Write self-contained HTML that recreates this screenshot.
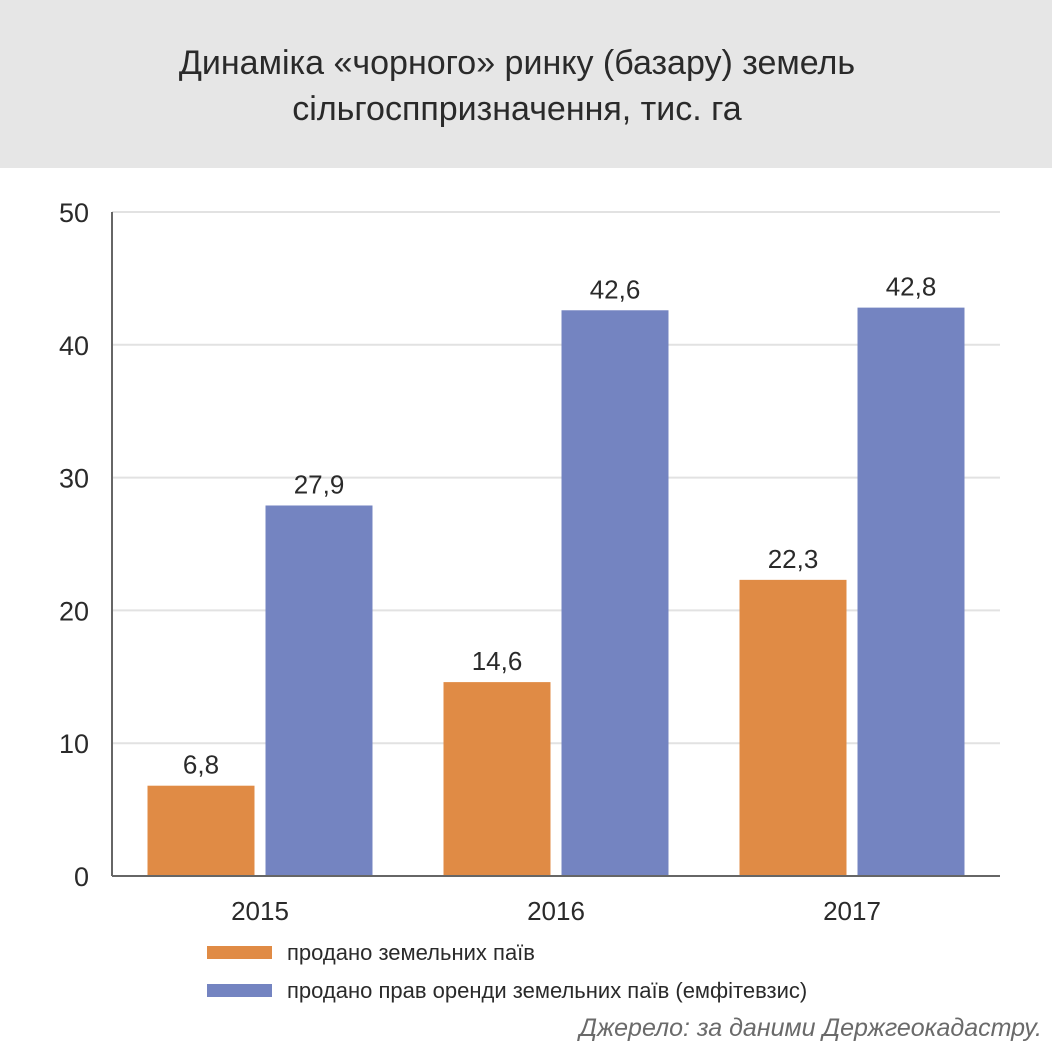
<!DOCTYPE html>
<html><head><meta charset="utf-8"><style>
html,body{margin:0;padding:0;background:#fff;}
body{width:1052px;height:1051px;position:relative;overflow:hidden;font-family:"Liberation Sans",sans-serif;}
#hdr{position:absolute;left:0;top:0;width:1052px;height:168px;background:#e6e6e6;}
#title{position:absolute;left:0;top:40px;width:1034px;text-align:center;font-size:34px;line-height:46px;color:#2a2a2a;}
svg{position:absolute;left:0;top:0;}
#src{position:absolute;right:10px;top:1014px;font-style:italic;font-size:25px;color:#6a6a6a;}
</style></head><body>
<div id="hdr"></div>
<div id="title">Динаміка «чорного» ринку (базару) земель<br>сільгосппризначення, тис. га</div>
<svg id="chart" width="1052" height="1051"></svg>
<div id="src">Джерело: за даними Держгеокадастру.</div>
<script>
const categories=["2015","2016","2017"];
const soldShares=[6.8,14.6,22.3];
const soldLease=[27.9,42.6,42.8];
const valueLabelsA=["6,8","14,6","22,3"];
const valueLabelsB=["27,9","42,6","42,8"];
const yTicks=[0,10,20,30,40,50];
const legendLabels=["продано земельних паїв","продано прав оренди земельних паїв (емфітевзис)"];
const colors=["#e08b45","#7484c1"];
const NS="http://www.w3.org/2000/svg";
const svg=document.getElementById('chart');
const x0=112,x1=1000,y0=876,yTop=212;
const y=v=>y0-(v/50)*(y0-yTop);
const band=(x1-x0)/categories.length;
const bw=107,gap=11;
function mk(t,a,p){const e=document.createElementNS(NS,t);for(const k in a)e.setAttribute(k,a[k]);(p||svg).appendChild(e);return e;}
yTicks.forEach(t=>{
  if(t>0){const g=mk('line',{x1:x0,x2:x1,y1:y(t),y2:y(t),stroke:'#e2e2e2','stroke-width':2});
  
  }
  const l=mk('text',{x:89,y:y(t)+10,'text-anchor':'end','font-size':27,fill:'#2a2a2a','font-family':'Liberation Sans, sans-serif'});
  l.textContent=t;
  
  
});
categories.forEach((c,i)=>{
  const cx=x0+band*(i+0.5);
  [[soldShares[i],valueLabelsA[i],cx-gap/2-bw,0],[soldLease[i],valueLabelsB[i],cx+gap/2,1]].forEach(([v,lab,bx,s])=>{
    const r=mk('rect',{x:bx,y:y(v),width:bw,height:y0-y(v),fill:colors[s]});
    
    
    const t=mk('text',{x:bx+bw/2,y:y(v)-12,'text-anchor':'middle','font-size':26,fill:'#2a2a2a','font-family':'Liberation Sans, sans-serif'});
    t.textContent=lab;
    
    
  });
  const t=mk('text',{x:cx,y:920,'text-anchor':'middle','font-size':26,fill:'#2a2a2a','font-family':'Liberation Sans, sans-serif'});
  t.textContent=c;
  
  
});
const ax=mk('line',{x1:x0,x2:x0,y1:yTop,y2:y0,stroke:'#666','stroke-width':2});


const bx=mk('line',{x1:x0,x2:x1,y1:y0,y2:y0,stroke:'#666','stroke-width':2});


legendLabels.forEach((l,i)=>{
  const ly=946+i*38;
  const r=mk('rect',{x:207,y:ly,width:65,height:13,fill:colors[i]});
  
  
  const t=mk('text',{x:287,y:ly+14,'font-size':22,fill:'#2a2a2a','font-family':'Liberation Sans, sans-serif'});
  t.textContent=l;
  
  
});
</script>
</body></html>
